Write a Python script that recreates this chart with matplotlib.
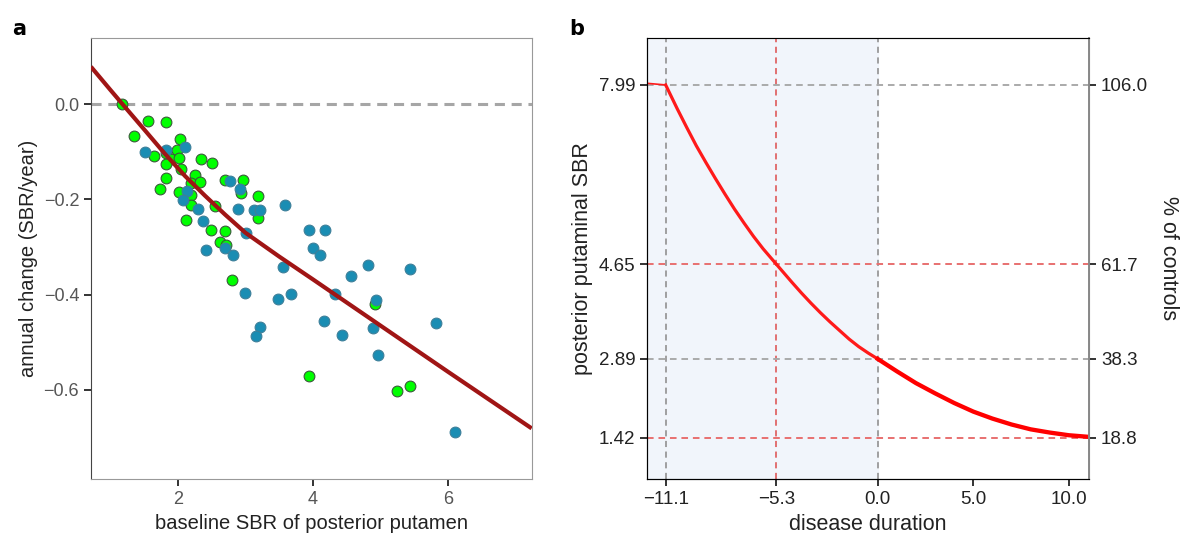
import matplotlib
matplotlib.use("Agg")
import matplotlib.pyplot as plt

plt.rcParams['font.family'] = ['Liberation Sans', 'DejaVu Sans']

# ---- panel a data ----
green_x = [1.17, 1.55, 1.83, 1.35, 2.03, 1.98, 1.83, 1.64, 1.89, 2.01, 2.34, 2.50, 1.83,
           2.05, 2.25, 1.82, 2.20, 2.32, 2.69, 2.97, 1.74, 2.02, 2.20, 2.93, 3.19, 2.19,
           2.55, 2.12, 3.18, 2.49, 2.70, 2.62, 2.71, 2.80, 3.94, 5.24, 5.44, 4.92]
green_y = [0.000, -0.035, -0.038, -0.066, -0.072, -0.097, -0.102, -0.108, -0.114, -0.113,
           -0.114, -0.123, -0.125, -0.135, -0.148, -0.155, -0.165, -0.163, -0.160, -0.159,
           -0.179, -0.184, -0.190, -0.187, -0.192, -0.211, -0.214, -0.244, -0.239, -0.265,
           -0.266, -0.289, -0.295, -0.370, -0.572, -0.602, -0.593, -0.419]
blue_x = [1.51, 1.82, 2.10, 2.77, 2.92, 2.14, 2.08, 2.29, 2.89, 3.13, 3.22, 3.59, 2.37,
          3.01, 2.41, 2.69, 2.82, 3.56, 3.94, 4.18, 4.00, 4.11, 3.00, 3.48, 3.68, 3.22,
          3.15, 4.17, 4.33, 4.43, 4.81, 4.56, 5.44, 4.94, 4.89, 5.83, 4.96, 6.11]
blue_y = [-0.101, -0.095, -0.089, -0.161, -0.178, -0.182, -0.201, -0.221, -0.219, -0.222,
          -0.222, -0.211, -0.245, -0.271, -0.307, -0.301, -0.317, -0.341, -0.265, -0.264,
          -0.303, -0.317, -0.396, -0.409, -0.399, -0.469, -0.487, -0.455, -0.399, -0.485,
          -0.338, -0.360, -0.347, -0.411, -0.470, -0.459, -0.526, -0.688]
fit_x = [0.71, 1.0, 1.18, 1.5, 1.8, 2.1, 2.4, 2.7, 3.0, 3.5, 4.0, 5.0, 6.0, 7.24]
fit_y = [0.079, 0.030, 0.0, -0.053, -0.103, -0.150, -0.192, -0.232, -0.270, -0.320,
         -0.368, -0.465, -0.562, -0.681]

# ---- panel b data ----
flat_x = [-12.06, -11.1]
flat_y = [8.02, 7.99]
pre_x = [-11.1, -10.5, -10.0, -9.5, -9.0, -8.5, -8.0, -7.5, -7.0, -6.5, -6.0, -5.3,
         -4.5, -4.0, -3.5, -3.0, -2.5, -2.0, -1.5, -1.0, -0.5, 0.0]
pre_y = [7.99, 7.55, 7.20, 6.86, 6.55, 6.25, 5.96, 5.68, 5.42, 5.17, 4.94, 4.65,
         4.32, 4.12, 3.93, 3.75, 3.58, 3.42, 3.26, 3.12, 3.00, 2.89]
post_x = [0.0, 1.0, 2.0, 3.0, 4.0, 5.0, 6.0, 7.0, 8.0, 9.0, 10.0, 11.03]
post_y = [2.89, 2.66, 2.44, 2.25, 2.07, 1.91, 1.78, 1.67, 1.58, 1.52, 1.47, 1.44]
b_xticks = [-11.1, -5.3, 0.0, 5.0, 10.0]
b_xlabels = ["\u221211.1", "\u22125.3", "0.0", "5.0", "10.0"]
b_yticks = [7.99, 4.65, 2.89, 1.42]
b_pct_labels = ["106.0", "61.7", "38.3", "18.8"]

fig = plt.figure(figsize=(11.83, 5.42), dpi=100)

# ── Panel a ──
ax1 = fig.add_axes([0.0769, 0.1157, 0.3725, 0.8148])
ax1.axhline(0, color='#a6a6a6', lw=2.2, ls=(0, (3.3, 2.2)), zorder=1)
ax1.scatter(green_x, green_y, s=60, color='#00ff00', edgecolor='#3a5a3a', lw=0.8, zorder=2)
ax1.scatter(blue_x, blue_y, s=60, color='#1a8db3', edgecolor='#3d7f99', lw=0.8, zorder=3)
ax1.plot(fit_x, fit_y, color='#a01515', lw=3, zorder=4, solid_capstyle='butt')
ax1.set_xlim(0.711, 7.24)
ax1.set_ylim(-0.788, 0.14)
ax1.set_xticks([2, 4, 6])
ax1.set_yticks([0.0, -0.2, -0.4, -0.6])
ax1.set_yticklabels(["0.0", "\u22120.2", "\u22120.4", "\u22120.6"])
ax1.set_xlabel("baseline SBR of posterior putamen", fontsize=14.5, color='#222222')
ax1.set_ylabel("annual change (SBR/year)", fontsize=14.5, color='#222222')
ax1.tick_params(labelsize=13, colors='#333333', length=5, width=1.4, labelcolor='#555555')
for s in ['top', 'right', 'bottom']:
    ax1.spines[s].set_color('#999999')
ax1.spines['left'].set_color('#444444')

# ── Panel b ──
ax2 = fig.add_axes([0.5472, 0.1157, 0.3734, 0.8148])
ax2.set_xlim(-12.06, 11.06)
ax2.set_ylim(0.65, 8.87)
ax2.axvspan(-12.06, 0.0, color='#f1f5fb', zorder=0)
dash = (0, (3.4, 2.5))
for xv, c in zip(b_xticks[:3], ['#999999', '#e06666', '#999999']):
    ax2.axvline(xv, color=c, lw=1.3, ls=dash, zorder=1)
for yv, c in zip(b_yticks, ['#aaaaaa', '#e87070', '#aaaaaa', '#e87070']):
    ax2.axhline(yv, color=c, lw=1.4, ls=dash, zorder=1)
ax2.plot(flat_x, flat_y, color='#ff1a1a', lw=1.2, zorder=3)
ax2.plot(pre_x, pre_y, color='#ff1a1a', lw=2.3, zorder=3)
ax2.plot(post_x, post_y, color='#ff0000', lw=3.1, zorder=3)
ax2.set_xticks(b_xticks)
ax2.set_xticklabels(b_xlabels)
ax2.set_yticks(b_yticks)
ax2.set_yticklabels([f"{v:.2f}" for v in b_yticks])
ax2.set_xlabel("disease duration", fontsize=15.5, color='#222222')
ax2.set_ylabel("posterior putaminal SBR", fontsize=15.5, color='#222222')
ax2.tick_params(labelsize=13.5, colors='#333333', length=5, width=1.4, labelcolor='#222222')
ax2.spines['top'].set_color('#888888')
ax2.spines['right'].set_color('#888888')

ax3 = ax2.twinx()
ax3.set_ylim(ax2.get_ylim())
ax3.set_yticks(b_yticks)
ax3.set_yticklabels(b_pct_labels)
ax3.set_ylabel("% of controls", fontsize=15.5, rotation=270, labelpad=22, color='#222222')
ax3.tick_params(labelsize=13.5, colors='#333333', length=5, width=1.4, labelcolor='#222222')
ax3.spines['right'].set_color('#888888')
ax3.spines['right'].set_linewidth(1.4)

fig.text(0.010, 0.965, "a", fontsize=15, fontweight='bold', va='top', family='DejaVu Sans')
fig.text(0.481, 0.965, "b", fontsize=15, fontweight='bold', va='top', family='DejaVu Sans')

fig.savefig("out.png", dpi=100)
